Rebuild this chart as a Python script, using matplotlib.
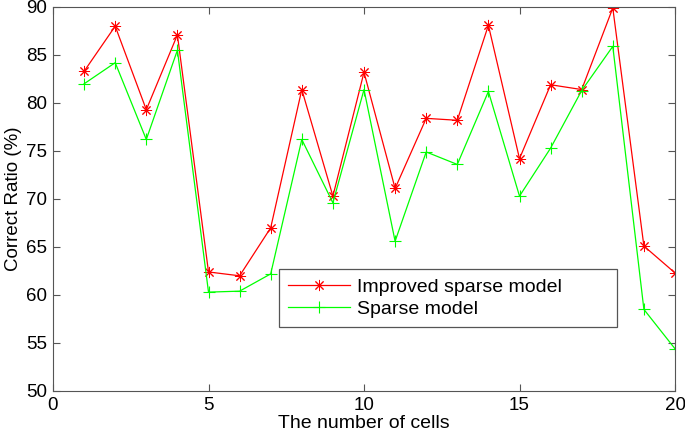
import matplotlib
matplotlib.use("Agg")
import matplotlib.pyplot as plt

plt.rcParams['font.family'] = ['Liberation Sans', 'DejaVu Sans']

cells = list(range(1, 21))
improved = [83.3, 88.0, 79.3, 87.1, 62.4, 62.0, 67.0, 81.4, 70.3, 83.2,
            71.1, 78.4, 78.2, 88.1, 74.2, 81.9, 81.4, 89.9, 65.1, 62.3]
sparse = [82.0, 84.2, 76.2, 85.5, 60.3, 60.4, 62.2, 76.2, 69.6, 81.4,
          65.6, 74.9, 73.6, 81.2, 70.3, 75.3, 81.3, 85.9, 58.5, 54.4]
xticks = [0, 5, 10, 15, 20]
yticks = [50, 55, 60, 65, 70, 75, 80, 85, 90]

fig = plt.figure(figsize=(6.85, 4.38), dpi=100)
ax = fig.add_axes([53/685, 1-391/438, 622/685, 384/438])
ax.plot(cells, improved, color=(1, 0, 0), marker=(8, 2, 0), markersize=8,
        markeredgewidth=0.7, linewidth=0.9, label='Improved sparse model')
ax.plot(cells, sparse, color=(0, 1, 0), marker='+', markersize=9,
        markeredgewidth=0.8, linewidth=0.9, label='Sparse model')
ax.set_xlim(0, 20)
ax.set_ylim(50, 90)
ax.set_xticks(xticks)
ax.set_yticks(yticks)
ax.tick_params(direction='in', top=True, right=True, labelsize=13.5, length=5,
               color='#555555', pad=4)
for s in ax.spines.values():
    s.set_color('#555555')
ax.set_xlabel('The number of cells', fontsize=14, labelpad=1)
ax.set_ylabel('Correct Ratio (%)', fontsize=13.5, labelpad=3)
leg = ax.legend(loc='lower left',
                bbox_to_anchor=((279-53)/622, (391-327)/384, (617-279)/622, (327-270)/384),
                mode='expand', borderaxespad=0, fontsize=14, fancybox=False,
                framealpha=1, edgecolor='#555555', borderpad=0.45,
                handlelength=3.2, handletextpad=0.35, labelspacing=0.25)
leg.get_frame().set_linewidth(0.9)
fig.savefig('out.png', dpi=100)
